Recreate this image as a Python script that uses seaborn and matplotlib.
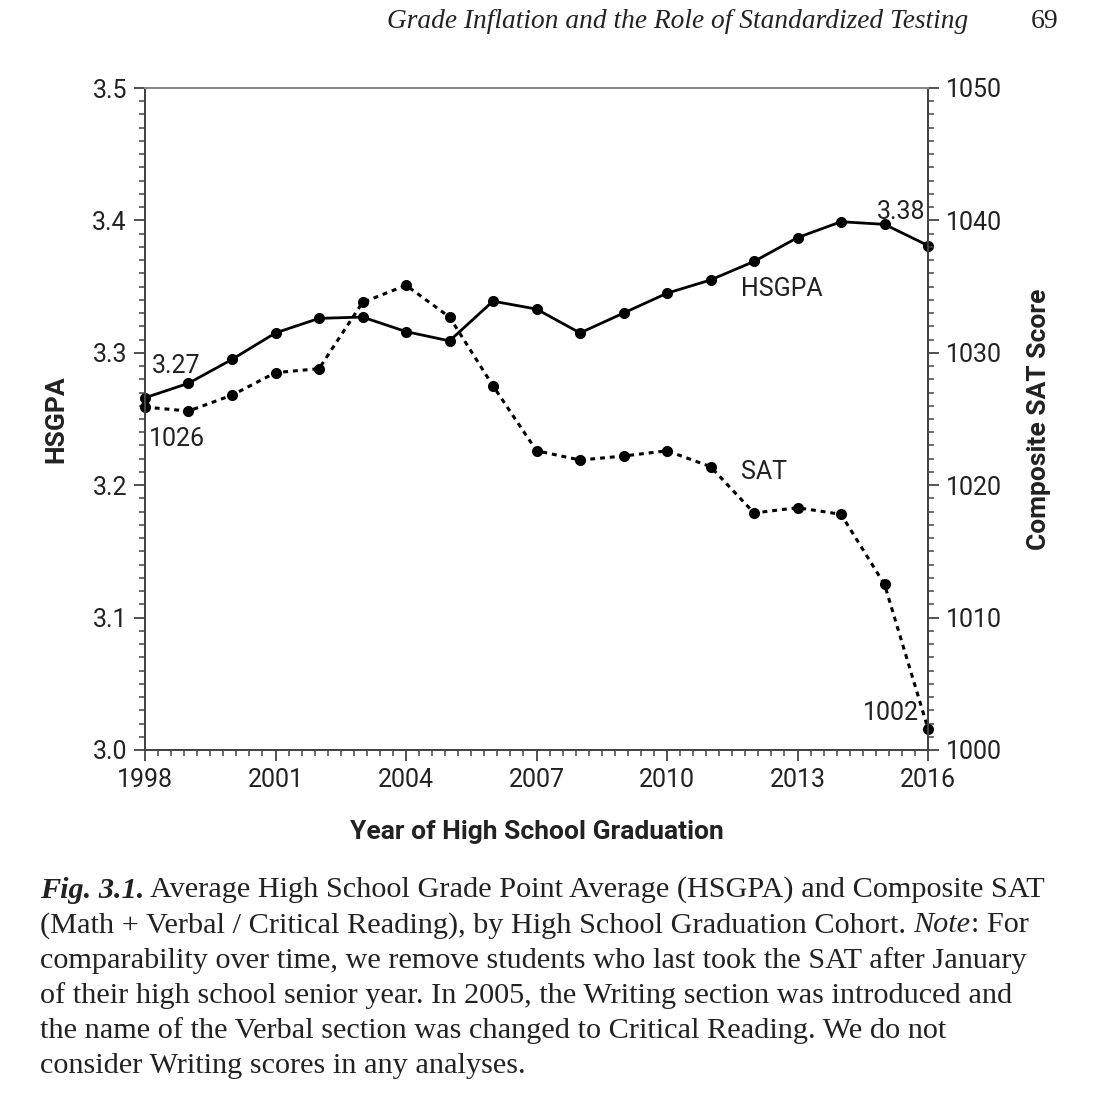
import numpy as np
import pandas as pd
import matplotlib
matplotlib.use('Agg')
import matplotlib.pyplot as plt
import seaborn as sns
from matplotlib.ticker import MultipleLocator, AutoMinorLocator

# values
years = [1998, 1999, 2000, 2001, 2002, 2003, 2004, 2005, 2006, 2007,
         2008, 2009, 2010, 2011, 2012, 2013, 2014, 2015, 2016]
hsgpa = [3.266, 3.277, 3.295, 3.315, 3.326, 3.327, 3.316, 3.309, 3.339, 3.333,
         3.315, 3.330, 3.345, 3.355, 3.369, 3.387, 3.399, 3.397, 3.381]
sat = [1025.9, 1025.6, 1026.8, 1028.5, 1028.8, 1033.8, 1035.1, 1032.7, 1027.5, 1022.6,
       1021.9, 1022.2, 1022.6, 1021.4, 1017.9, 1018.3, 1017.8, 1012.5, 1001.6]

df = pd.DataFrame({'Year': years, 'HSGPA': hsgpa, 'SAT': sat})

sns.set_style('ticks')
narrow = ['Roboto', 'Liberation Sans', 'DejaVu Sans']
serif = ['Liberation Serif', 'DejaVu Serif']
plt.rcParams['font.family'] = narrow
ink = '#222222'

fig = plt.figure(figsize=(11.06, 11.0), dpi=100)
ax = fig.add_axes([0.1311, 0.3182, 0.8391 - 0.1311, 0.92 - 0.3182])
ax2 = ax.twinx()

sns.lineplot(data=df, x='Year', y='HSGPA', ax=ax, color='black', lw=2.0,
             marker='o', markersize=8, markeredgewidth=0, clip_on=False)
sns.lineplot(data=df, x='Year', y='SAT', ax=ax2, color='black', lw=2.2,
             linestyle=(0, (1.6, 1.6)), marker='o', markersize=8,
             markeredgewidth=0, clip_on=False)

ax.set_xlim(1998, 2016)
ax.set_ylim(3.0, 3.5)
ax2.set_ylim(1000, 1050)
ax.xaxis.set_major_locator(MultipleLocator(3))
ax.xaxis.set_minor_locator(AutoMinorLocator(10))
ax.yaxis.set_major_locator(MultipleLocator(0.1))
ax.yaxis.set_minor_locator(AutoMinorLocator(10))
ax2.yaxis.set_major_locator(MultipleLocator(10))
ax2.yaxis.set_minor_locator(AutoMinorLocator(10))
ax.yaxis.set_major_formatter(matplotlib.ticker.FormatStrFormatter('%.1f'))

for a in (ax, ax2):
    a.tick_params(which='major', length=8, width=1.3, color='#444444',
                  labelsize=18, labelcolor=ink, pad=5)
    a.tick_params(which='minor', length=4, width=1.1, color='#444444')
    for s in a.spines.values():
        s.set_color('#444444')
        s.set_linewidth(1.4)
    a.spines['top'].set_color('#888888')

ax.set_xlabel('Year of High School Graduation', fontsize=19, fontweight='bold',
              color=ink, labelpad=20)
ax.set_ylabel('HSGPA', fontsize=19, fontweight='bold', color=ink, labelpad=17)
ax2.set_ylabel('Composite SAT Score', fontsize=19, fontweight='bold', color=ink,
               labelpad=18, rotation=90)

# line annotations
ax.text(1998.15, 3.29, '3.27', fontsize=18, color=ink, ha='left', va='center')
ax2.text(1998.1, 1023.5, '1026', fontsize=18, color=ink, ha='left', va='center')
ax.text(2011.7, 3.348, 'HSGPA', fontsize=18, color=ink, ha='left', va='center')
ax2.text(2011.7, 1021.0, 'SAT', fontsize=18, color=ink, ha='left', va='center')
ax.text(2015.95, 3.406, '3.38', fontsize=18, color=ink, ha='right', va='center')
ax2.text(2015.8, 1002.8, '1002', fontsize=18, color=ink, ha='right', va='center')

# running header
fig.text(968 / 1106, 1 - 22 / 1100, 'Grade Inflation and the Role of Standardized Testing',
         family=serif, style='italic', fontsize=19.7, color=ink, ha='right', va='center')
fig.text(1058 / 1106, 1 - 22 / 1100, '69', family=serif,
         fontsize=20, color=ink, ha='right', va='center')

# caption
cap_lines = [
    ' Average High School Grade Point Average (HSGPA) and Composite SAT',
    '(Math + Verbal / Critical Reading), by High School Graduation Cohort. ',
    'comparability over time, we remove students who last took the SAT after January',
    'of their high school senior year. In 2005, the Writing section was introduced and',
    'the name of the Verbal section was changed to Critical Reading. We do not',
    'consider Writing scores in any analyses.',
]
x0 = 40 / 1106
fs = 21.8
y_first = 890
step = 35.2
t = fig.text(x0, 1 - y_first / 1100, 'Fig. 3.1.', family=serif, style='italic',
             fontweight='bold', fontsize=fs, color=ink, va='center')
fig.canvas.draw()
ax.annotate(cap_lines[0], xy=(1, 0.5), xycoords=t, va='center', ha='left',
            family=serif, fontsize=fs, color=ink)
t2 = fig.text(x0, 1 - (y_first + step) / 1100, cap_lines[1], family=serif,
              fontsize=fs, color=ink, va='center')
t3 = ax.annotate('Note', xy=(1, 0.5), xycoords=t2, va='center', ha='left',
                 family=serif, style='italic', fontsize=fs, color=ink)
ax.annotate(': For', xy=(1, 0.5), xycoords=t3, va='center', ha='left',
            family=serif, fontsize=fs, color=ink)
for i, line in enumerate(cap_lines[2:], start=2):
    fig.text(x0, 1 - (y_first + i * step) / 1100, line, family=serif,
             fontsize=fs, color=ink, va='center')

fig.savefig('out.png', dpi=100, facecolor='white')
